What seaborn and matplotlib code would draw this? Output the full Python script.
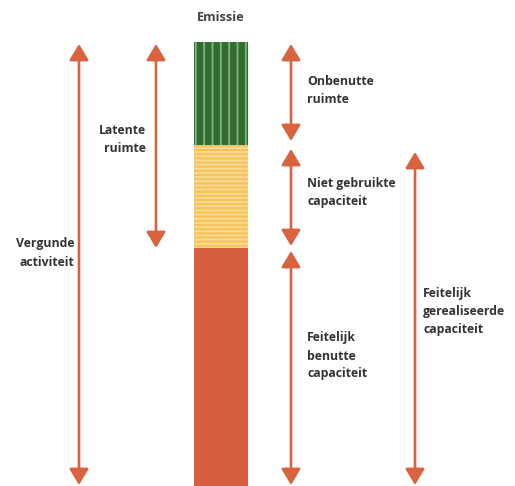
import matplotlib
matplotlib.use("Agg")
import matplotlib.pyplot as plt
import seaborn as sns
import pandas as pd
import numpy as np

# ---- data (bottom to top of the emission bar) ----
category = "Emissie"
segments = ["Feitelijk benutte capaciteit", "Niet gebruikte capaciteit", "Onbenutte ruimte"]
values = [238, 103, 103]
colors = ["#d65f40", "#f6c45e", "#2f6e2f"]
hatches = [None, "----", "||"]
hatch_colors = [None, "#fadb96", "#86b382"]

# arrow labels
lbl_vergund = "Vergunde\nactiviteit"
lbl_latent = "Latente\nruimte"
lbl_onbenut = "Onbenutte\nruimte"
lbl_niet = "Niet gebruikte\ncapaciteit"
lbl_benut = "Feitelijk\nbenutte\ncapaciteit"
lbl_gereal = "Feitelijk\ngerealiseerde\ncapaciteit"

sns.set_theme(style="white")
plt.rcParams["font.family"] = ["Open Sans", "DejaVu Sans"]
plt.rcParams["hatch.linewidth"] = 1.3

W, H = 515, 486
fig = plt.figure(figsize=(W / 100, H / 100), dpi=100)
ax = fig.add_axes([0, 0, 1, 1])

cum = np.cumsum(values)
df = pd.DataFrame({"cat": [category] * 3, "top": cum, "seg": segments})

# draw stacked bar from the top layer down
for i in [2, 1, 0]:
    sns.barplot(x=[category], y=[cum[i]], color=colors[i], saturation=1,
                width=0.8, ax=ax, errorbar=None)
    p = ax.patches[-1]
    p.set_facecolor(colors[i])
    p.set_linewidth(0)
    if hatches[i]:
        p.set_hatch(hatches[i])
        p.set_edgecolor(hatch_colors[i])

px = 67.5  # pixels per x unit
def X(pxx):
    return (pxx - 221) / px

ax.set_xlim(X(0), X(W))
ax.set_ylim(0, H)
ax.axis("off")

total = cum[-1]
top_tip = total - 2
arrow_col = "#d9623f"
def arrow(x, y0, y1):
    ax.annotate("", xy=(X(x), y1), xytext=(X(x), y0),
                arrowprops=dict(arrowstyle="<|-|>,head_length=0.75,head_width=0.45",
                                color=arrow_col, lw=1.9, shrinkA=0, shrinkB=0,
                                mutation_scale=13))

gap = 4
arrow(79, 1, top_tip)                              # Vergunde activiteit
arrow(156, cum[0], top_tip)                        # Latente ruimte
arrow(291, cum[1] + gap, top_tip)                  # Onbenutte ruimte
arrow(291, cum[0] + 2, cum[1] - gap)               # Niet gebruikte capaciteit
arrow(291, 1, cum[0] - 3)                          # Feitelijk benutte capaciteit
arrow(415, 1, cum[1] - 7)                          # Feitelijk gerealiseerde capaciteit

tc = "#333333"
fs = 8.8
kw = dict(color=tc, fontsize=fs, fontweight="bold", va="center", linespacing=1.5)
ax.text(X(221), H - 18, category, ha="center", va="center", color="#444444",
        fontsize=9.2, fontweight="bold")
ax.text(X(74), H - 253, lbl_vergund, ha="right", multialignment="right", **kw)
ax.text(X(146), H - 139, lbl_latent, ha="right", multialignment="right", **kw)
ax.text(X(307), H - 91, lbl_onbenut, ha="left", **kw)
ax.text(X(307), H - 192, lbl_niet, ha="left", **kw)
ax.text(X(307), H - 356, lbl_benut, ha="left", **kw)
ax.text(X(423), H - 312, lbl_gereal, ha="left", **kw)

fig.savefig("out.png", dpi=100)
